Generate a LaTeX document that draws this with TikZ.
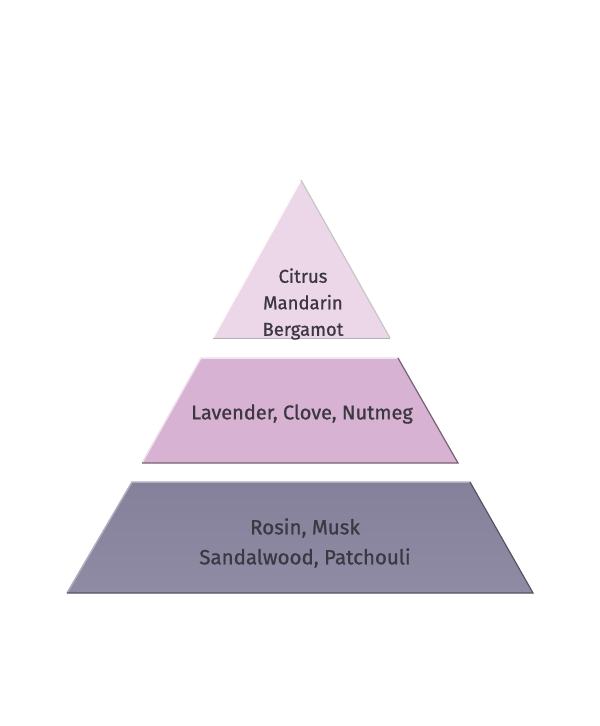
\documentclass[tikz,border=0pt]{standalone}
\usepackage{fontspec}
\setmainfont{Fira Sans}
\newfontfamily\lblfont[FakeBold=0.9]{Fira Sans}
\begin{document}
\begin{tikzpicture}[x=1pt,y=-1pt,
  tier/.style={line width=0.8pt, line join=miter},
  lbl/.style={text=textgray, align=center, inner sep=0pt}]
\definecolor{textgray}{HTML}{3C3842}
\definecolor{topc}{HTML}{ECD7E8}
\definecolor{midc}{HTML}{D8B2D2}
\definecolor{botc}{HTML}{85819A}
\definecolor{botc2}{HTML}{8F8BA4}
\useasboundingbox (0,0) rectangle (600,726);
\fill[white] (0,0) rectangle (600,726);
% top triangle
\coordinate (tA) at (301,180);
\coordinate (tL) at (213,338);
\coordinate (tR) at (390,338);
\fill[topc] (tA) -- (tL) -- (tR) -- cycle;
\draw[tier, white!85!topc, line width=1.5pt] (tA) -- (tL);
\draw[tier, gray!45, line width=1.2pt] (tA) -- (tR);
\draw[tier, gray!60, line width=1pt] (tL) -- (tR);
% middle trapezoid
\coordinate (mTL) at (201,358);
\coordinate (mTR) at (398,358);
\coordinate (mBR) at (458,463);
\coordinate (mBL) at (142,463);
\fill[midc] (mTL) -- (mTR) -- (mBR) -- (mBL) -- cycle;
\draw[tier, white!60!midc, line width=1.5pt] (mBL) -- (mTL) -- (mTR);
\draw[tier, black!45!midc, line width=1.2pt] (mTR) -- (mBR) -- (mBL);
% bottom trapezoid
\coordinate (bTL) at (132,482);
\coordinate (bTR) at (470,482);
\coordinate (bBR) at (533,593);
\coordinate (bBL) at (67,593);
\shade[top color=botc, bottom color=botc2] (bTL) -- (bTR) -- (bBR) -- (bBL) -- cycle;
\draw[tier, white!35!botc, line width=1.5pt] (bBL) -- (bTL) -- (bTR);
\draw[tier, black!35!botc, line width=1.2pt] (bTR) -- (bBR) -- (bBL);
% labels
\node[lbl, font=\lblfont\fontsize{18.5}{26.5}\selectfont] (t1) at (303,304) {Citrus\\Mandarin\\Bergamot};
\node[lbl, font=\lblfont\fontsize{20}{28}\selectfont] (t2) at (302,414) {Lavender, Clove, Nutmeg};
\node[lbl, font=\lblfont\fontsize{20.5}{30}\selectfont] (t3) at (305,543) {Rosin, Musk\\Sandalwood, Patchouli};
\end{tikzpicture}
\end{document}
